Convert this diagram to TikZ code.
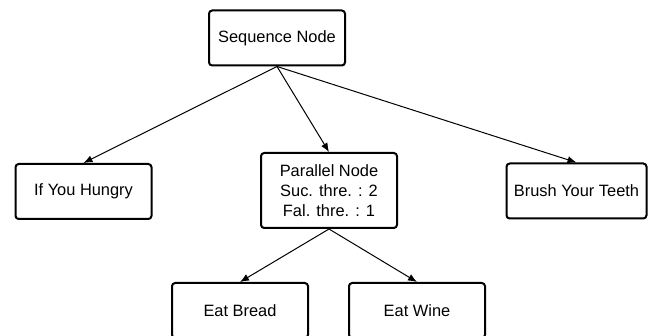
\documentclass[tikz,border=0pt]{standalone}
\usepackage{fontspec}
\setmainfont{Liberation Sans}
\usetikzlibrary{arrows.meta}
\begin{document}
\begin{tikzpicture}[x=0.5pt,y=-0.5pt,
  box/.style={draw=black,line width=1pt,rounded corners=1.6pt,fill=white,
    minimum width=68pt,minimum height=27.5pt,inner sep=0pt,align=center,
    font=\fontsize{8.2}{10}\selectfont},
  conn/.style={line width=0.5pt,-{Latex[length=4.5pt,width=3.6pt]}}]
\useasboundingbox (0,0) rectangle (648,336);
\node[box] (seq) at (277,38) {Sequence Node};
\node[box] (hungry) at (83.5,191.5) {If You Hungry};
\node[box,minimum height=37.5pt] (par) at (329,190.5) {Parallel Node\\Suc. thre. : 2\\Fal. thre. : 1};
\node[box,minimum width=70pt] (brush) at (576.5,191) {Brush Your Teeth};
\node[box] (bread) at (240,310.5) {Eat Bread};
\node[box] (wine) at (417,310.5) {Eat Wine};
\draw[conn] (seq.south) -- (hungry.north);
\draw[conn] (seq.south) -- (par.north);
\draw[conn] (seq.south) -- (brush.north);
\draw[conn] (par.south) -- (bread.north);
\draw[conn] (par.south) -- (wine.north);
\end{tikzpicture}
\end{document}
